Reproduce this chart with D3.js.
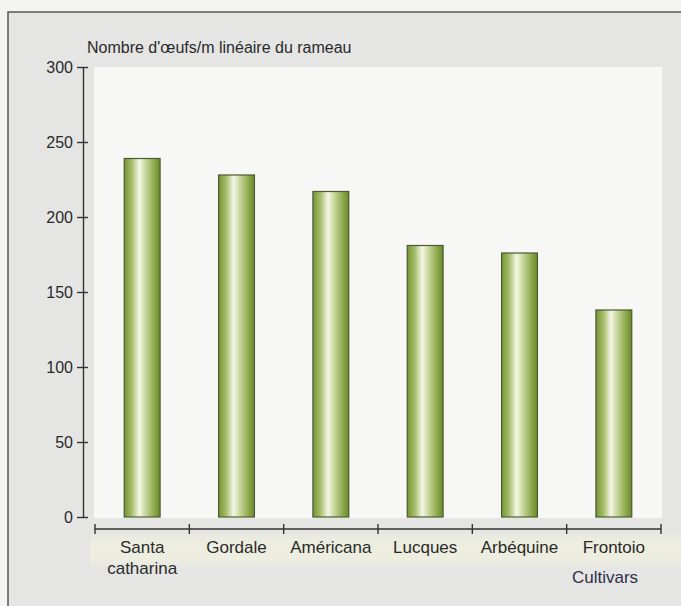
<!DOCTYPE html>
<html>
<head>
<meta charset="utf-8">
<script src="https://cdn.jsdelivr.net/npm/d3@7"></script>
<style>
  html, body { margin: 0; padding: 0; background: #f4f4f2; }
  svg { display: block; }
  text { font-family: "Liberation Sans", Arial, Helvetica, sans-serif; fill: #2a2a2a; }
</style>
</head>
<body>
<svg id="chart" width="681" height="606"></svg>
<script>
// Cultivars and egg counts per linear metre of shoot
const categories = ["Santa catharina", "Gordale", "Américana", "Lucques", "Arbéquine", "Frontoio"];
const labelLines = [["Santa", "catharina"], ["Gordale"], ["Américana"], ["Lucques"], ["Arbéquine"], ["Frontoio"]];
const eggs = [239, 228, 217, 181, 176, 138];
const yTicks = [0, 50, 100, 150, 200, 250, 300];
const yTitle = "Nombre d'œufs/m linéaire du rameau";
const xTitle = "Cultivars";

const svg = d3.select("#chart");
const defs = svg.append("defs");

// Outer framed card
svg.append("rect").attr("x", 0).attr("y", 0).attr("width", 681).attr("height", 606).attr("fill", "#f4f4f2");
svg.append("rect").attr("x", 8).attr("y", 12).attr("width", 690).attr("height", 610)
  .attr("fill", "#e5e5e4").attr("stroke", "#555").attr("stroke-width", 1.5);

// Soft pale band under the category axis
const band = defs.append("linearGradient").attr("id", "bandGrad").attr("x1", 0).attr("x2", 0).attr("y1", 0).attr("y2", 1);
[["0%", 0], ["30%", 0.85], ["70%", 0.85], ["100%", 0]]
  .forEach(([o, a]) => band.append("stop").attr("offset", o).attr("stop-color", "#eeefdf").attr("stop-opacity", a));
svg.append("rect").attr("x", 90).attr("y", 530).attr("width", 591).attr("height", 40)
  .attr("fill", "url(#bandGrad)");

// Plot panel
const plot = { left: 94, right: 662, top: 67, bottom: 517 };
svg.append("rect").attr("x", plot.left).attr("y", plot.top)
  .attr("width", plot.right - plot.left).attr("height", plot.bottom - plot.top + 1)
  .attr("fill", "#f7f7f5");

const y = d3.scaleLinear().domain([0, 300]).range([517, 67]);
const x = d3.scaleBand().domain(categories).range([95, 661]).paddingInner(0.62).paddingOuter(0.31);

// Bar shading
const grad = defs.append("linearGradient").attr("id", "barGrad").attr("x1", "0%").attr("x2", "100%").attr("y1", "0%").attr("y2", "0%");
[["0%", "#769536"], ["20%", "#a3bb66"], ["42%", "#f4f7e6"], ["60%", "#c6d69a"], ["85%", "#8aa648"], ["100%", "#6a8a2a"]]
  .forEach(([o, c]) => grad.append("stop").attr("offset", o).attr("stop-color", c));

svg.append("g").selectAll("rect").data(categories).join("rect")
  .attr("x", d => x(d))
  .attr("y", (d, i) => y(eggs[i]))
  .attr("width", x.bandwidth())
  .attr("height", (d, i) => y(0) - y(eggs[i]))
  .attr("fill", "url(#barGrad)")
  .attr("stroke", "#4b5a33")
  .attr("stroke-width", 1.2);

// Y axis with ticks crossing the axis line
const yAxis = svg.append("g").attr("transform", "translate(83,0)")
  .call(d3.axisLeft(y).tickValues(yTicks).tickSizeInner(6).tickSizeOuter(0).tickPadding(4));
yAxis.select(".domain").attr("stroke", "#333").attr("stroke-width", 1.4);
yAxis.selectAll(".tick line").attr("x1", 5).attr("x2", -6).attr("stroke", "#333").attr("stroke-width", 1.4);
yAxis.selectAll(".tick text").attr("font-size", 16).attr("fill", "#2a2a2a")
  .style("font-family", "'Liberation Sans', Arial, sans-serif");

svg.append("text").attr("x", 87).attr("y", 53).attr("font-size", 16).text(yTitle);

// X axis: separators between cultivars
const step = x.step();
const bounds = categories.map(c => x(c) + x.bandwidth() / 2 - step / 2);
bounds.push(x(categories[categories.length - 1]) + x.bandwidth() / 2 + step / 2);
const xAxisY = 529;
svg.append("line").attr("x1", bounds[0]).attr("x2", bounds[bounds.length - 1])
  .attr("y1", xAxisY).attr("y2", xAxisY).attr("stroke", "#333").attr("stroke-width", 1.6);
svg.append("g").selectAll("line").data(bounds).join("line")
  .attr("x1", d => d).attr("x2", d => d)
  .attr("y1", xAxisY - 5).attr("y2", xAxisY + 5)
  .attr("stroke", "#333").attr("stroke-width", 1.4);

svg.append("g").selectAll("text").data(categories).join("text")
  .attr("x", d => x(d) + x.bandwidth() / 2)
  .attr("y", 553)
  .attr("text-anchor", "middle")
  .attr("font-size", 17)
  .each(function (d, i) {
    d3.select(this).selectAll("tspan").data(labelLines[i]).join("tspan")
      .attr("x", x(d) + x.bandwidth() / 2)
      .attr("dy", (t, j) => j === 0 ? 0 : 21)
      .text(t => t);
  });

svg.append("text").attr("x", 605).attr("y", 583).attr("text-anchor", "middle")
  .attr("font-size", 17).style("fill", "#30304a").text(xTitle);
</script>
</body>
</html>
